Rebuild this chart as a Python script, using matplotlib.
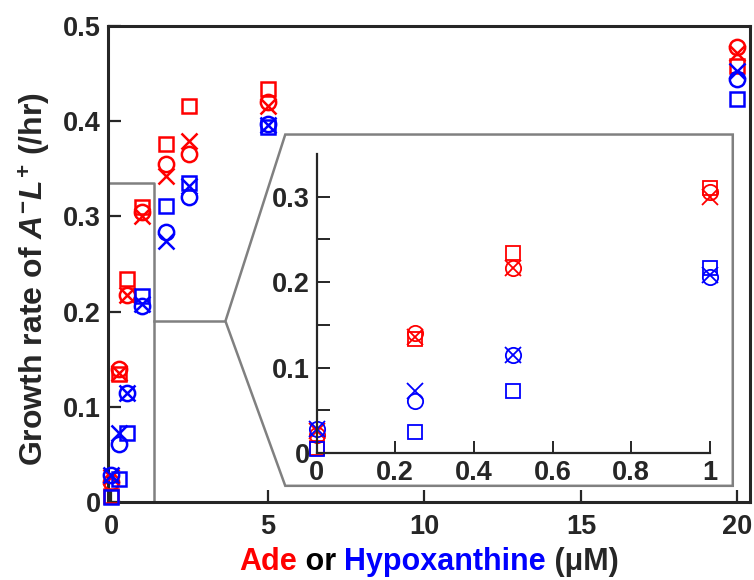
import numpy as np
import matplotlib
matplotlib.use("Agg")
import matplotlib.pyplot as plt
from matplotlib.ticker import FixedLocator, FuncFormatter
from matplotlib.offsetbox import TextArea, HPacker, AnchoredOffsetbox
from matplotlib.patches import Polygon

plt.rcParams['font.family'] = ['Liberation Sans', 'DejaVu Sans']
plt.rcParams['font.weight'] = 'bold'
plt.rcParams['mathtext.fontset'] = 'custom'
plt.rcParams['mathtext.rm'] = 'Liberation Sans:bold'
plt.rcParams['mathtext.bf'] = 'Liberation Sans:bold'
plt.rcParams['mathtext.it'] = 'Liberation Sans:bold:italic'

# concentrations (uM) and growth rates (/hr), three replicates each
conc = [0, 0.25, 0.5, 1, 1.75, 2.5, 5, 20]
ade_o = [0.021, 0.140, 0.217, 0.305, 0.355, 0.366, 0.420, 0.478]
ade_x = [0.026, 0.136, 0.217, 0.300, 0.342, 0.379, 0.416, 0.472]
ade_s = [0.006, 0.134, 0.234, 0.310, 0.376, 0.416, 0.434, 0.458]
hyp_o = [0.028, 0.061, 0.115, 0.206, 0.284, 0.320, 0.397, 0.444]
hyp_x = [0.028, 0.072, 0.115, 0.208, 0.274, 0.332, 0.396, 0.453]
hyp_s = [0.005, 0.024, 0.073, 0.216, 0.311, 0.335, 0.394, 0.423]

main_yticks = [0, 0.1, 0.2, 0.3, 0.4, 0.5]
main_xticks = [0, 5, 10, 15, 20]
inset_xticks = [0, 0.2, 0.4, 0.6, 0.8, 1]
inset_yticks = [0, 0.05, 0.1, 0.15, 0.2, 0.25, 0.3]
inset_ylabels = ['0', '', '0.1', '', '0.2', '', '0.3']

TXT = '#262626'
RED = '#ff0000'
BLUE = '#0000ff'

series = [(ade_o, 'o', RED, 11), (ade_x, 'x', RED, 11), (ade_s, 's', RED, 10),
          (hyp_o, 'o', BLUE, 11), (hyp_x, 'x', BLUE, 11), (hyp_s, 's', BLUE, 10)]

fmt = FuncFormatter(lambda v, p: '%g' % v)

fig = plt.figure(figsize=(7.54, 5.8), dpi=100)
W, H = 754.0, 580.0

def px_axes(l, t, r, b):
    return fig.add_axes([l / W, 1 - b / H, (r - l) / W, (b - t) / H])

ax = px_axes(108, 26, 750, 502)
for y, m, c, ms in series:
    ax.plot(conc, y, linestyle='none', marker=m, ms=ms, mfc='none', mec=c, mew=1.8, clip_on=False, zorder=3)
ax.set_xlim(-0.1, 20.4)
ax.set_ylim(0, 0.5)
ax.xaxis.set_major_locator(FixedLocator(main_xticks))
ax.yaxis.set_major_locator(FixedLocator(main_yticks))
ax.xaxis.set_major_formatter(fmt)
ax.yaxis.set_major_formatter(fmt)
ax.tick_params(direction='in', length=9, width=1.6, labelsize=19.5, colors=TXT, pad=5)
ax.tick_params(axis='x', pad=9)
for s in ax.spines.values():
    s.set_linewidth(2.2)
    s.set_color(TXT)

# zoom box and callout outline
gray = '#808080'
ax.plot([-0.1, 1.37, 1.37, -0.1], [0.0, 0.0, 0.335, 0.335], color=gray, lw=1.8, zorder=2)
ax.plot([-0.1, -0.1], [0, 0.335], color=gray, lw=1.8, zorder=2)
ax.plot([1.37, 3.65], [0.19, 0.19], color=gray, lw=1.8, zorder=2)
frame = Polygon([[3.65, 0.19], [5.56, 0.386], [19.85, 0.386], [19.85, 0.017], [5.56, 0.017]],
                closed=True, facecolor='white', edgecolor=gray, lw=1.8, zorder=4)
ax.add_patch(frame)

# inset for the low-concentration range
ins = px_axes(316.5, 154, 710, 453)
ins.set_zorder(5)
ins.patch.set_alpha(0)
for y, m, c, ms in series:
    ins.plot(conc[:4], y[:4], linestyle='none', marker=m, ms=ms, mfc='none', mec=c, mew=1.3, clip_on=False)
ins.set_xlim(0, 1)
ins.set_ylim(0, 0.35)
ins.xaxis.set_major_locator(FixedLocator(inset_xticks))
ins.xaxis.set_major_formatter(fmt)
ins.yaxis.set_major_locator(FixedLocator(inset_yticks))
ins.set_yticklabels(inset_ylabels)
ins.tick_params(direction='in', length=9, width=1.4, labelsize=19.5, colors=TXT, pad=5)
ins.spines['top'].set_visible(False)
ins.spines['right'].set_visible(False)
for s in ['left', 'bottom']:
    ins.spines[s].set_linewidth(1.6)
    ins.spines[s].set_color(TXT)

fig.text(35 / W, 1 - 279 / H, 'Growth rate of $\\mathit{A}^{-}\\mathit{L}^{+}$ (/hr)',
         rotation=90, ha='center', va='center', fontsize=23, color=TXT)

parts = [('Ade', RED), (' or ', 'black'), ('Hypoxanthine', BLUE), (' (\u03bcM)', TXT)]
boxes = [TextArea(t, textprops=dict(color=c, fontsize=22, fontweight='bold')) for t, c in parts]
xl = HPacker(children=boxes, align='baseline', pad=0, sep=0)
fig.add_artist(AnchoredOffsetbox(loc='center', child=xl, frameon=False, pad=0, borderpad=0,
                                 bbox_to_anchor=(429 / W, 1 - 562 / H),
                                 bbox_transform=fig.transFigure))

fig.savefig('out.png', dpi=100)
